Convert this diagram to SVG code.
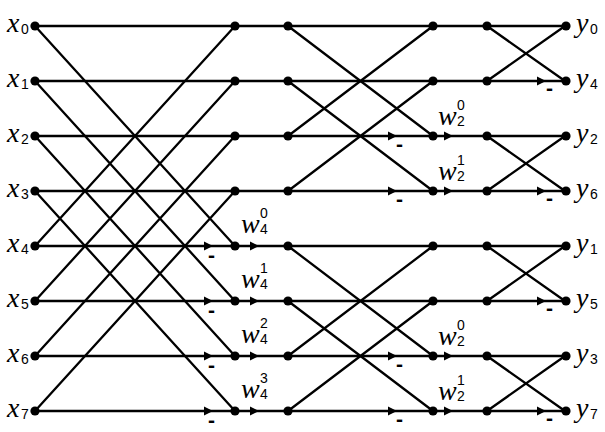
<svg xmlns="http://www.w3.org/2000/svg" width="605" height="432" viewBox="0 0 605 432">
<style>
.ln{stroke:#000;stroke-width:2.3;fill:none;stroke-linecap:round}
.v{font-family:"Liberation Serif",serif;font-style:italic;font-size:28px;fill:#000}
.d{font-family:"Liberation Sans",sans-serif;font-size:14px;fill:#000}
.m{font-family:"Liberation Sans",sans-serif;font-size:21px;font-weight:bold;fill:#000}
</style>
<defs>
<path id="ah" d="M-9,-4.5 L0,0 L-9,4.5 Z" fill="#000"/>
<circle id="nd" r="4.6" fill="#000"/>
</defs>
<rect width="605" height="432" fill="#fff"/>
<g id="connectors">
<path class="ln" d="M35,26H565M35,81H565M35,136H565M35,191H565M35,246H565M35,301H565M35,356H565M35,411H565"/>
<path class="ln" d="M35,26L235,246M35,81L235,301M35,136L235,356M35,191L235,411M35,246L235,26M35,301L235,81M35,356L235,136M35,411L235,191"/>
<path class="ln" d="M288,26L433,136M288,81L433,191M288,136L433,26M288,191L433,81M288,246L433,356M288,301L433,411M288,356L433,246M288,411L433,301"/>
<path class="ln" d="M487,26L565,81M487,81L565,26M487,136L565,191M487,191L565,136M487,246L565,301M487,301L565,246M487,356L565,411M487,411L565,356"/>
<use href="#ah" x="213" y="246"/><use href="#ah" x="213" y="301"/><use href="#ah" x="213" y="356"/><use href="#ah" x="213" y="411"/>
<use href="#ah" x="259" y="246"/><use href="#ah" x="259" y="301"/><use href="#ah" x="259" y="356"/><use href="#ah" x="259" y="411"/>
<use href="#ah" x="397" y="136"/><use href="#ah" x="397" y="191"/><use href="#ah" x="397" y="356"/><use href="#ah" x="397" y="411"/>
<use href="#ah" x="453" y="136"/><use href="#ah" x="453" y="191"/><use href="#ah" x="453" y="356"/><use href="#ah" x="453" y="411"/>
<use href="#ah" x="546" y="81"/><use href="#ah" x="546" y="191"/><use href="#ah" x="546" y="301"/><use href="#ah" x="546" y="411"/>
<text class="m" x="208" y="262">-</text><text class="m" x="208" y="317">-</text><text class="m" x="208" y="372">-</text><text class="m" x="208" y="427">-</text>
<text class="m" x="396" y="151">-</text><text class="m" x="396" y="206">-</text><text class="m" x="396" y="371">-</text><text class="m" x="396" y="426">-</text>
<text class="m" x="546" y="95">-</text><text class="m" x="546" y="205">-</text><text class="m" x="546" y="315">-</text><text class="m" x="546" y="425">-</text>
</g>
<g id="inputs">
<g id="x0"><use href="#nd" x="35" y="26"/><text class="v" x="7" y="32">x</text><text class="d" x="21" y="34">0</text></g>
<g id="x1"><use href="#nd" x="35" y="81"/><text class="v" x="7" y="87">x</text><text class="d" x="21" y="89">1</text></g>
<g id="x2"><use href="#nd" x="35" y="136"/><text class="v" x="7" y="142">x</text><text class="d" x="21" y="144">2</text></g>
<g id="x3"><use href="#nd" x="35" y="191"/><text class="v" x="7" y="197">x</text><text class="d" x="21" y="199">3</text></g>
<g id="x4"><use href="#nd" x="35" y="246"/><text class="v" x="7" y="252">x</text><text class="d" x="21" y="254">4</text></g>
<g id="x5"><use href="#nd" x="35" y="301"/><text class="v" x="7" y="307">x</text><text class="d" x="21" y="309">5</text></g>
<g id="x6"><use href="#nd" x="35" y="356"/><text class="v" x="7" y="362">x</text><text class="d" x="21" y="364">6</text></g>
<g id="x7"><use href="#nd" x="35" y="411"/><text class="v" x="7" y="417">x</text><text class="d" x="21" y="419">7</text></g>
</g>
<g id="stage1">
<g id="n1_0"><use href="#nd" x="235" y="26"/></g>
<g id="n1_1"><use href="#nd" x="235" y="81"/></g>
<g id="n1_2"><use href="#nd" x="235" y="136"/></g>
<g id="n1_3"><use href="#nd" x="235" y="191"/></g>
<g id="n1_4"><use href="#nd" x="235" y="246"/></g>
<g id="n1_5"><use href="#nd" x="235" y="301"/></g>
<g id="n1_6"><use href="#nd" x="235" y="356"/></g>
<g id="n1_7"><use href="#nd" x="235" y="411"/></g>
</g>
<g id="twiddle1">
<g id="w40"><text class="v" x="241" y="233">w</text><text class="d" x="260" y="218">0</text><text class="d" x="260" y="234">4</text></g>
<g id="w41"><text class="v" x="241" y="288">w</text><text class="d" x="260" y="273">1</text><text class="d" x="260" y="289">4</text></g>
<g id="w42"><text class="v" x="241" y="343">w</text><text class="d" x="260" y="328">2</text><text class="d" x="260" y="344">4</text></g>
<g id="w43"><text class="v" x="241" y="398">w</text><text class="d" x="260" y="383">3</text><text class="d" x="260" y="399">4</text></g>
</g>
<g id="stage2">
<g id="n2_0"><use href="#nd" x="288" y="26"/></g>
<g id="n2_1"><use href="#nd" x="288" y="81"/></g>
<g id="n2_2"><use href="#nd" x="288" y="136"/></g>
<g id="n2_3"><use href="#nd" x="288" y="191"/></g>
<g id="n2_4"><use href="#nd" x="288" y="246"/></g>
<g id="n2_5"><use href="#nd" x="288" y="301"/></g>
<g id="n2_6"><use href="#nd" x="288" y="356"/></g>
<g id="n2_7"><use href="#nd" x="288" y="411"/></g>
</g>
<g id="stage3">
<g id="n3_0"><use href="#nd" x="433" y="26"/></g>
<g id="n3_1"><use href="#nd" x="433" y="81"/></g>
<g id="n3_2"><use href="#nd" x="433" y="136"/></g>
<g id="n3_3"><use href="#nd" x="433" y="191"/></g>
<g id="n3_4"><use href="#nd" x="433" y="246"/></g>
<g id="n3_5"><use href="#nd" x="433" y="301"/></g>
<g id="n3_6"><use href="#nd" x="433" y="356"/></g>
<g id="n3_7"><use href="#nd" x="433" y="411"/></g>
</g>
<g id="twiddle2">
<g id="w20a"><text class="v" x="438" y="125">w</text><text class="d" x="457" y="110">0</text><text class="d" x="457" y="126">2</text></g>
<g id="w21a"><text class="v" x="438" y="180">w</text><text class="d" x="457" y="165">1</text><text class="d" x="457" y="181">2</text></g>
<g id="w20b"><text class="v" x="438" y="345">w</text><text class="d" x="457" y="330">0</text><text class="d" x="457" y="346">2</text></g>
<g id="w21b"><text class="v" x="438" y="400">w</text><text class="d" x="457" y="385">1</text><text class="d" x="457" y="401">2</text></g>
</g>
<g id="stage4">
<g id="n4_0"><use href="#nd" x="487" y="26"/></g>
<g id="n4_1"><use href="#nd" x="487" y="81"/></g>
<g id="n4_2"><use href="#nd" x="487" y="136"/></g>
<g id="n4_3"><use href="#nd" x="487" y="191"/></g>
<g id="n4_4"><use href="#nd" x="487" y="246"/></g>
<g id="n4_5"><use href="#nd" x="487" y="301"/></g>
<g id="n4_6"><use href="#nd" x="487" y="356"/></g>
<g id="n4_7"><use href="#nd" x="487" y="411"/></g>
</g>
<g id="outputs">
<g id="y0"><use href="#nd" x="566" y="26"/><text class="v" x="576" y="32">y</text><text class="d" x="590" y="34">0</text></g>
<g id="y4"><use href="#nd" x="566" y="81"/><text class="v" x="576" y="87">y</text><text class="d" x="590" y="89">4</text></g>
<g id="y2"><use href="#nd" x="566" y="136"/><text class="v" x="576" y="142">y</text><text class="d" x="590" y="144">2</text></g>
<g id="y6"><use href="#nd" x="566" y="191"/><text class="v" x="576" y="197">y</text><text class="d" x="590" y="199">6</text></g>
<g id="y1"><use href="#nd" x="566" y="246"/><text class="v" x="576" y="252">y</text><text class="d" x="590" y="254">1</text></g>
<g id="y5"><use href="#nd" x="566" y="301"/><text class="v" x="576" y="307">y</text><text class="d" x="590" y="309">5</text></g>
<g id="y3"><use href="#nd" x="566" y="356"/><text class="v" x="576" y="362">y</text><text class="d" x="590" y="364">3</text></g>
<g id="y7"><use href="#nd" x="566" y="411"/><text class="v" x="576" y="417">y</text><text class="d" x="590" y="419">7</text></g>
</g>
</svg>
